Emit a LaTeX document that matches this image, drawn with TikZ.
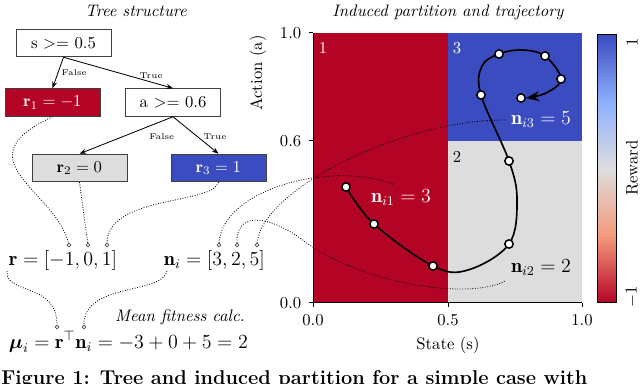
\documentclass[tikz,border=0pt]{standalone}
\usepackage{amsmath,amssymb}
\usepackage{fontspec}
\usepackage{xcolor}
\usepackage{tikz}
\usetikzlibrary{arrows.meta,positioning,calc}
\definecolor{lowcolor}{RGB}{180,4,38}
\definecolor{lowmidcolor}{RGB}{244,154,123}
\definecolor{midcolor}{RGB}{221,221,221}
\definecolor{highmidcolor}{RGB}{141,176,254}
\definecolor{highcolor}{RGB}{59,76,192}
\pgfdeclareverticalshading{rewardbar}{100bp}{color(0bp)=(lowcolor); color(25bp)=(lowcolor); color(37.5bp)=(lowmidcolor); color(50bp)=(midcolor); color(62.5bp)=(highmidcolor); color(75bp)=(highcolor); color(100bp)=(highcolor)}

\begin{document}
\begin{tikzpicture}[
  x=0.6pt,y=-0.6pt,
  leaf/.style={rectangle,draw=black!75,line width=0.6pt,minimum width=57pt,minimum height=16.5pt,inner sep=0pt},
  split/.style={leaf,fill=white},
  arr/.style={-{Stealth[length=4pt,width=3pt]},line width=0.5pt},
  tag/.style={font=\tiny,inner sep=1pt},
  link/.style={densely dotted,line width=0.5pt},
  pin/.style={circle,draw=black!70,fill=white,inner sep=0pt,minimum size=2.2pt,line width=0.4pt},
  visit/.style={circle,draw,fill=white,line width=0.9pt,inner sep=0pt,minimum size=5pt},
  title/.style={font=\itshape}
]
\useasboundingbox (0,0) rectangle (640,384);
\clip (0,0) rectangle (640,384);

% tree
\node[title] (ttree) at (136,11) {Tree structure};
\node[split] (root) at (63.5,43) {s >= 0.5};
\node[leaf,fill=lowcolor,text=white] (r1) at (52.5,102.5) {$\mathbf{r}_1 = -1$};
\node[split] (asplit) at (173,102.5) {a >= 0.6};
\node[leaf,fill=midcolor] (r2) at (79.5,168) {$\mathbf{r}_2 = 0$};
\node[leaf,fill=highcolor,text=white] (r3) at (218.5,168) {$\mathbf{r}_3 = 1$};

\draw[arr] (root.south) -- (r1.north) node[tag,midway,right=1pt] {False};
\draw[arr] (root.south) -- (asplit.north) node[tag,pos=0.8,above=1pt] {True};
\draw[arr] (asplit.south) -- (r2.north) node[tag,pos=0.12,below=6pt] {False};
\draw[arr] (asplit.south) -- (r3.north) node[tag,pos=0.55,right=2pt] {True};

% vectors
\node[font=\large,anchor=base west] (rvec) at (3,266) {$\mathbf{r} = [-1, 0, 1]$};
\node[font=\large,anchor=base west] (nvec) at (158,266) {$\mathbf{n}_i = [3, 2, 5]$};
\node[pin] (rd1) at (69,245) {};
\node[pin] (rd2) at (88,245) {};
\node[pin] (rd3) at (107,245) {};
\node[pin] (nd1) at (219,245) {};
\node[pin] (nd2) at (237,245) {};
\node[pin] (nd3) at (257,245) {};
\coordinate (rfoot) at (7,271);
\coordinate (nfoot) at (167,271);

\draw[link] (r1.south) .. controls (-40,160) and (55,190) .. (rd1);
\draw[link] (r2.south) -- (rd2);
\draw[link] (r3.south) .. controls (212,205) and (108,195) .. (rd3);

% mean fitness
\node[title] (tcalc) at (180,317) {Mean fitness calc.};
\node[font=\large,anchor=base west] (mueq) at (3,348) {$\boldsymbol{\mu}_i = \mathbf{r}^{\top}\mathbf{n}_i = -3+0+5=2$};
\node[pin] (md1) at (57,327) {};
\node[pin] (md2) at (84,327) {};
\draw[link] (rfoot) .. controls (5,295) and (57,282) .. (md1);
\draw[link] (nfoot) .. controls (162,295) and (84,282) .. (md2);

% partition
\node[title] (tpart) at (448,12) {Induced partition and trajectory};
\fill[lowcolor] (313,33) rectangle (448,303);
\fill[highcolor] (448,33) rectangle (582,141);
\fill[midcolor] (448,141) rectangle (582,303);
\node[text=white] (c1) at (323,48) {1};
\node[text=white] (c3) at (457,48) {3};
\node (c2) at (457,157) {2};

\draw[line width=0.6pt] (313,33) -- (313,303) -- (582,303);
\foreach \y/\t in {33/1.0,141/0.6,303/0.0}
  \draw[line width=0.6pt] (313,\y) -- (309,\y) node[left=1pt] {\t};
\foreach \x/\t in {313/0.0,448/0.5,582/1.0}
  \draw[line width=0.6pt] (\x,303) -- (\x,307) node[below=1pt] {\t};
\node (xlab) at (448,345) {State (s)};
\node[rotate=90] (ylab) at (258,73) {Action (a)};

% colorbar
\shade[shading=rewardbar] (597,35) rectangle (616,303);
\draw[line width=0.6pt] (597,35) rectangle (616,303);
\node[rotate=90] (cbtop) at (632,42) {1};
\node[rotate=90] (cbbot) at (632,297) {$-1$};
\node[rotate=90] (cblab) at (632,168) {Reward};

% trajectory
\draw[line width=1pt,-{Stealth[length=8pt,width=6pt]}] plot[smooth,tension=0.6] coordinates {(346,187) (374,224) (433,266) (468,270) (509,244) (517,200) (509,161) (481,95) (482,66) (499,54) (522,50) (545,56) (561,79) (546,93) (526,98)};
\foreach \p [count=\k] in {(346,187),(374,224),(433,266),(509,244),(509,161),(481,95),(499,54),(545,56),(561,79),(521,98)}
  \node[visit] (visit\k) at \p {};

\node[font=\large,text=white] (ni1) at (401,198) {$\mathbf{n}_{i1} = 3$};
\node[font=\large] (ni2) at (541,268) {$\mathbf{n}_{i2} = 2$};
\node[font=\large,text=white] (ni3) at (541,120) {$\mathbf{n}_{i3} = 5$};

\draw[link] (nd1) .. controls (222,190) and (330,160) .. (ni1.120);
\draw[link] (nd3) .. controls (262,190) and (400,120) .. (ni3.west);
\draw[link] (nd2) .. controls (236,215) and (262,212) .. (300,238) .. controls (360,285) and (470,300) .. (ni2.200);

% caption
\node[font=\large\bfseries,anchor=base west,inner sep=0pt] (caption) at (1,384) {Figure 1: Tree and induced partition for a simple case with};
\end{tikzpicture}
\end{document}
